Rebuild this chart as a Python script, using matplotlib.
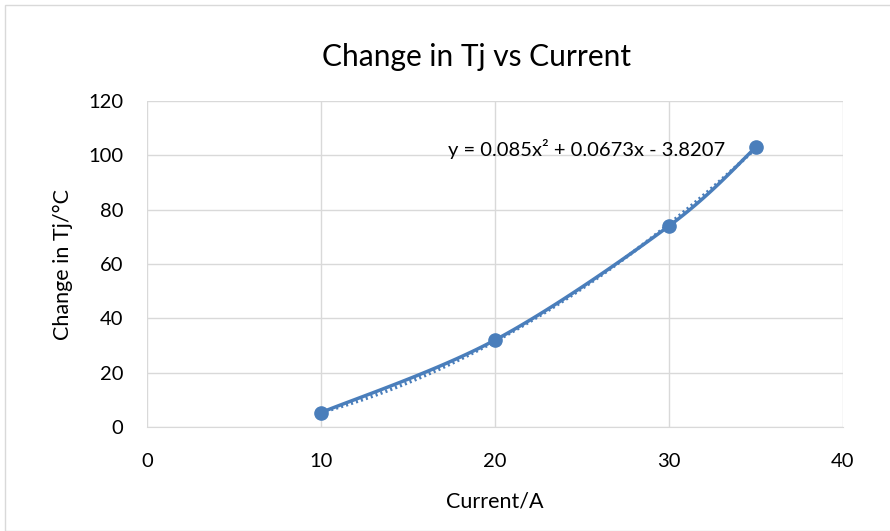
import numpy as np
import matplotlib
matplotlib.use("Agg")
import matplotlib.pyplot as plt
from matplotlib.patches import Rectangle

current = [10, 20, 30, 35]
delta_tj = [5.3, 32.0, 74.0, 103.0]
coef = [0.085, 0.0673, -3.8207]
eq_label = "y = 0.085x² + 0.0673x - 3.8207"
xticks = [0, 10, 20, 30, 40]
yticks = [0, 20, 40, 60, 80, 100, 120]

plt.rcParams['font.family'] = ['Lato', 'DejaVu Sans']
color = '#4a7ebb'

fig = plt.figure(figsize=(8.9, 5.31), dpi=100)
ax = fig.add_axes([147/890, 1-427/531, (843-147)/890, (427-101)/531])

# smoothed line (Catmull-Rom style spline as Excel)
x = np.array(current, float); y = np.array(delta_tj, float)
xs, ys = [], []
n = len(x)
t = np.linspace(0, 1, 40)
for i in range(n-1):
    p0 = np.array([x[i], y[i]]); p3 = np.array([x[i+1], y[i+1]])
    pm = np.array([x[i-1], y[i-1]]) if i > 0 else p0
    pp = np.array([x[i+2], y[i+2]]) if i+2 < n else p3
    c1 = p0 + (p3 - pm) / 6.0
    c2 = p3 - (pp - p0) / 6.0
    b = ((1-t)**3)[:, None]*p0 + (3*(1-t)**2*t)[:, None]*c1 + (3*(1-t)*t**2)[:, None]*c2 + (t**3)[:, None]*p3
    xs.extend(b[:, 0]); ys.extend(b[:, 1])

xt = np.linspace(min(current), max(current), 200)
yt = np.polyval(coef, xt)
ax.plot(xt, yt, color=color, lw=2.5, ls=(0, (0.6, 0.9)), zorder=3)
ax.plot(xs, ys, color=color, lw=2.5, zorder=4)
ax.plot(current, delta_tj, 'o', color=color, ms=9.5, zorder=5)

ax.set_xlim(0, 40); ax.set_ylim(0, 120)
ax.set_xticks(xticks); ax.set_yticks(yticks)
ax.grid(True, color='#d9d9d9', lw=1)
ax.set_axisbelow(True)
for s in ['top', 'right', 'left']:
    ax.spines[s].set_visible(False)
ax.spines['bottom'].set_color('#d9d9d9')
ax.tick_params(length=0, labelsize=14.5, colors='#000000')
ax.tick_params(axis='y', pad=17)
ax.tick_params(axis='x', pad=19)
ax.set_xlabel('Current/A', fontsize=15.5, labelpad=15)
ax.set_ylabel('Change in Tj/°C', fontsize=15.5, labelpad=11)
fig.text(476/890, 1-57/531, 'Change in Tj vs Current', ha='center', va='center', fontsize=21.5)
ax.text(587/890, 1-149/531, eq_label, transform=fig.transFigure, ha='center', va='center', fontsize=14.5)

fig.patches.append(Rectangle((5/890, 0.0), 1.2, 1-5/531, transform=fig.transFigure,
                             fill=False, edgecolor='#d9d9d9', lw=1))
fig.savefig('out.png', dpi=100)
